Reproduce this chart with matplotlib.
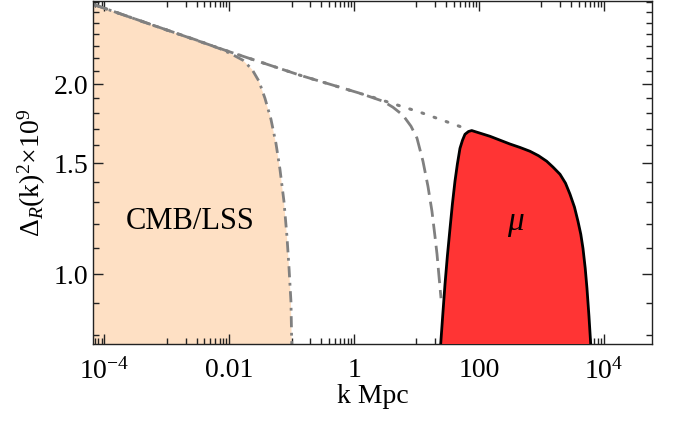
import numpy as np
import matplotlib
matplotlib.use("Agg")
import matplotlib.pyplot as plt
from matplotlib.ticker import FixedLocator, FixedFormatter, NullFormatter

# ---- data: log10(k Mpc), Delta_R(k)^2 x 1e9 ----
power_log10k = [-4.184, -3.111, -2.021, -0.867, 0.303, 1.056, 1.80]
power_val = [2.678, 2.459, 2.256, 2.067, 1.907, 1.806, 1.700]

cmb_log10k = [-4.184, -3.111, -2.470, -2.149, -1.957, -1.780, -1.636, -1.524,
              -1.428, -1.332, -1.252, -1.188, -1.124, -1.076, -1.044, -1.012, -0.990]
cmb_val = [2.678, 2.459, 2.340, 2.277, 2.231, 2.183, 2.112, 2.022,
           1.900, 1.760, 1.612, 1.467, 1.305, 1.149, 1.029, 0.906, 0.70]

dash_log10k = [-4.184, -2.021, -0.867, 0.095, 0.463, 0.623, 0.784, 0.912,
               1.008, 1.104, 1.184, 1.248, 1.296, 1.329, 1.361, 1.393]
dash_val = [2.678, 2.256, 2.067, 1.935, 1.880, 1.839, 1.786, 1.716,
            1.643, 1.510, 1.378, 1.258, 1.149, 1.076, 0.992, 0.916]

mu_log10k = [1.380, 1.388, 1.421, 1.457, 1.495, 1.538, 1.575, 1.617, 1.655,
             1.697, 1.737, 1.777, 1.833, 1.885, 2.178, 2.498, 2.659, 2.819,
             2.955, 3.087, 3.188, 3.300, 3.388, 3.460, 3.532, 3.588, 3.633,
             3.668, 3.704, 3.732, 3.764, 3.792, 3.800]
mu_val = [0.70, 0.775, 0.861, 0.964, 1.068, 1.183, 1.290, 1.404, 1.494,
          1.583, 1.630, 1.666, 1.683, 1.689, 1.654, 1.608, 1.588, 1.566,
          1.541, 1.510, 1.478, 1.440, 1.394, 1.339, 1.277, 1.213, 1.157,
          1.099, 1.022, 0.950, 0.858, 0.775, 0.70]

x_major = [1e-4, 1e-2, 1.0, 1e2, 1e4]
x_major_labels = [r"$10^{-4}$", "0.01", "1", "100", r"$10^{4}$"]
y_major = [1.0, 1.5, 2.0]
y_major_labels = ["1.0", "1.5", "2.0"]

# ---- style ----
plt.rcParams["font.family"] = ["Liberation Serif", "DejaVu Serif"]
plt.rcParams["mathtext.fontset"] = "custom"
plt.rcParams["mathtext.rm"] = "Liberation Serif"
plt.rcParams["mathtext.it"] = "Liberation Serif:italic"
plt.rcParams["mathtext.bf"] = "Liberation Serif:bold"

gray = "#808080"
peach = "#FEE0C4"
red = "#FF3434"

fig = plt.figure(figsize=(6.75, 4.24), dpi=100)
ax = fig.add_axes([0.1373, 0.1887, 0.9659 - 0.1373, 0.9976 - 0.1887])

k_cmb = 10.0 ** np.array(cmb_log10k)
ax.fill_between(k_cmb, 0.5, cmb_val, color=peach, lw=0, zorder=1)
ax.fill(10.0 ** np.array(mu_log10k), mu_val, facecolor=red, edgecolor="black",
        lw=2.0, joinstyle="round", zorder=3)

ax.plot(10.0 ** np.array(power_log10k), power_val, color=gray, lw=2.2,
        ls=(0, (0.6, 3.6)), dash_capstyle="round", zorder=2)
ax.plot(10.0 ** np.array(dash_log10k), dash_val, color=gray, lw=2.0,
        ls=(0, (5.5, 2.5)), zorder=2)
ax.plot(k_cmb, cmb_val, color=gray, lw=2.0,
        ls=(0, (4.0, 2.0, 1.0, 2.0)), zorder=2)

ax.set_xscale("log")
ax.set_yscale("log")
ax.set_xlim(10 ** -4.189, 10 ** 4.774)
ax.set_ylim(0.775, 2.71)

ax.xaxis.set_major_locator(FixedLocator(x_major))
ax.xaxis.set_major_formatter(FixedFormatter(x_major_labels))
minor_x = [m * 10.0 ** e for e in (-5, -3, -1, 1, 3) for m in range(1, 10)]
ax.xaxis.set_minor_locator(FixedLocator(minor_x))
ax.xaxis.set_minor_formatter(NullFormatter())

ax.yaxis.set_major_locator(FixedLocator(y_major))
ax.yaxis.set_major_formatter(FixedFormatter(y_major_labels))
minor_y = [round(0.8 + 0.1 * i, 1) for i in range(20)]
minor_y = [v for v in minor_y if v not in y_major]
ax.yaxis.set_minor_locator(FixedLocator(minor_y))
ax.yaxis.set_minor_formatter(NullFormatter())

ax.tick_params(which="both", direction="in", top=True, right=True,
               labelsize=20, width=1.0, color="#222222")
ax.tick_params(which="major", length=7)
ax.tick_params(which="minor", length=4)
ax.tick_params(axis="x", which="major", pad=10)
ax.tick_params(axis="y", which="major", pad=3)
for s in ax.spines.values():
    s.set_linewidth(1.0)
    s.set_color("#222222")

ax.set_xlabel("k Mpc", fontsize=20, labelpad=0)
ax.set_ylabel(r"$\Delta_{R}(\mathrm{k})^{2}{\times}10^{9}$", fontsize=20, labelpad=4)

ax.text(10 ** -2.63, 1.213, "CMB/LSS", fontsize=22, ha="center", va="center", zorder=4)
ax.text(10 ** 2.6, 1.204, r"$\mu$", fontsize=24, ha="center", va="center", zorder=4)

fig.savefig("out.png", dpi=100)
